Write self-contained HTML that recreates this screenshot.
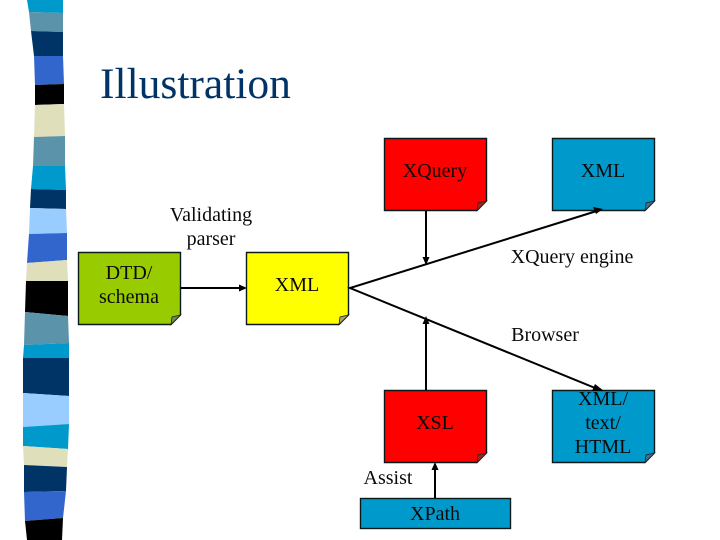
<!DOCTYPE html>
<html><head><meta charset="utf-8"><title>Illustration</title>
<style>html,body{margin:0;padding:0;background:#fff}svg{display:block}text{font-family:"Liberation Serif",serif;font-size:20px;text-anchor:middle;fill:#0a0a0a}</style></head>
<body>
<svg width="720" height="540" viewBox="0 0 720 540" xmlns="http://www.w3.org/2000/svg">
<g stroke="none">
<polygon fill="#0099cc" points="27,0 63,0 63,13 29,12"/>
<polygon fill="#5b93ab" points="29,12 63,13 63,32 31,31"/>
<polygon fill="#003366" points="31,31 63,32 63,56 34,56"/>
<polygon fill="#3366cc" points="34,56 63,56 64,84 35,85"/>
<polygon fill="#000000" points="35,85 64,84 64,104 35,105"/>
<polygon fill="#dfdfbb" points="35,105 64,104 65,136 34,137"/>
<polygon fill="#5b93ab" points="34,137 65,136 65,166 33,166"/>
<polygon fill="#0099cc" points="33,166 65,166 66,190 31,189"/>
<polygon fill="#003366" points="31,189 66,190 66,209 30,208"/>
<polygon fill="#99ccff" points="30,208 66,209 67,233 29,234"/>
<polygon fill="#3366cc" points="29,234 67,233 67,260 27,263"/>
<polygon fill="#dfdfbb" points="27,263 67,260 68,281 26,281"/>
<polygon fill="#000000" points="26,281 68,281 68,316 25,312"/>
<polygon fill="#5b93ab" points="25,312 68,316 69,343 24,345"/>
<polygon fill="#0099cc" points="24,345 69,343 69,358 23,358"/>
<polygon fill="#003366" points="23,358 69,358 69,396 23,393"/>
<polygon fill="#99ccff" points="23,393 69,396 69,424 23,427"/>
<polygon fill="#0099cc" points="23,427 69,424 68,449 23,446"/>
<polygon fill="#dfdfbb" points="23,446 68,449 67,467 24,465"/>
<polygon fill="#003366" points="24,465 67,467 66,491 24,492"/>
<polygon fill="#3366cc" points="24,492 66,491 63,518 25,521"/>
<polygon fill="#000000" points="25,521 63,518 62,540 27,540"/>
</g>
<text x="100" y="98" style="font-size:43.5px;text-anchor:start;fill:#003366">Illustration</text>

<g stroke="#0a1a1a" stroke-width="1.4">
<polygon fill="#ff0000" points="384.5,138.5 486.5,138.5 486.5,201 477,210.5 384.5,210.5"/>
<polygon fill="#0099cc" points="552.5,138.5 654.5,138.5 654.5,201 645,210.5 552.5,210.5"/>
<polygon fill="#99cc00" points="78.5,252.5 180.5,252.5 180.5,315 171,324.5 78.5,324.5"/>
<polygon fill="#ffff00" points="246.5,252.5 348.5,252.5 348.5,315 339,324.5 246.5,324.5"/>
<polygon fill="#ff0000" points="384.5,390.5 486.5,390.5 486.5,453 477,462.5 384.5,462.5"/>
<polygon fill="#0099cc" points="552.5,390.5 654.5,390.5 654.5,453 645,462.5 552.5,462.5"/>
<rect x="360.5" y="498.5" width="150" height="30" fill="#0099cc"/>
</g>
<g stroke="#222" stroke-width="0.8">
<polygon fill="#a82020" points="477,210.5 478,203 486.5,201"/>
<polygon fill="#3a6f96" points="645,210.5 646,203 654.5,201"/>
<polygon fill="#6f8f50" points="171,324.5 172,317 180.5,315"/>
<polygon fill="#a8a860" points="339,324.5 340,317 348.5,315"/>
<polygon fill="#a82020" points="477,462.5 478,455 486.5,453"/>
<polygon fill="#3a6f96" points="645,462.5 646,455 654.5,453"/>
</g>

<g stroke="#000" stroke-width="2" fill="none">
<line x1="181" y1="288" x2="243" y2="288"/>
<line x1="426" y1="211" x2="426" y2="262"/>
<polyline points="600,210 350,288 600,390"/>
<line x1="426" y1="322" x2="426" y2="390"/>
<line x1="435" y1="468" x2="435" y2="498"/>
</g>
<g fill="#000" stroke="none">
<polygon points="247,288 239,284.5 239,291.5"/>
<polygon points="426,265 422.5,257 429.5,257"/>
<polygon points="603,209 593,207 596,214"/>
<polygon points="426,316 422.5,324 429.5,324"/>
<polygon points="604,391 595,384 592,391"/>
<polygon points="435,462 431.5,470 438.5,470"/>
</g>

<text x="435" y="177">XQuery</text>
<text x="603" y="177">XML</text>
<text x="211" y="221">Validating</text>
<text x="211" y="245">parser</text>
<text x="129" y="279">DTD/</text>
<text x="129" y="303">schema</text>
<text x="297" y="291">XML</text>
<text x="572" y="263">XQuery engine</text>
<text x="545" y="341">Browser</text>
<text x="435" y="429">XSL</text>
<text x="603" y="405">XML/</text>
<text x="603" y="429">text/</text>
<text x="603" y="453">HTML</text>
<text x="388" y="484">Assist</text>
<text x="435" y="520">XPath</text>
</svg>
</body></html>
